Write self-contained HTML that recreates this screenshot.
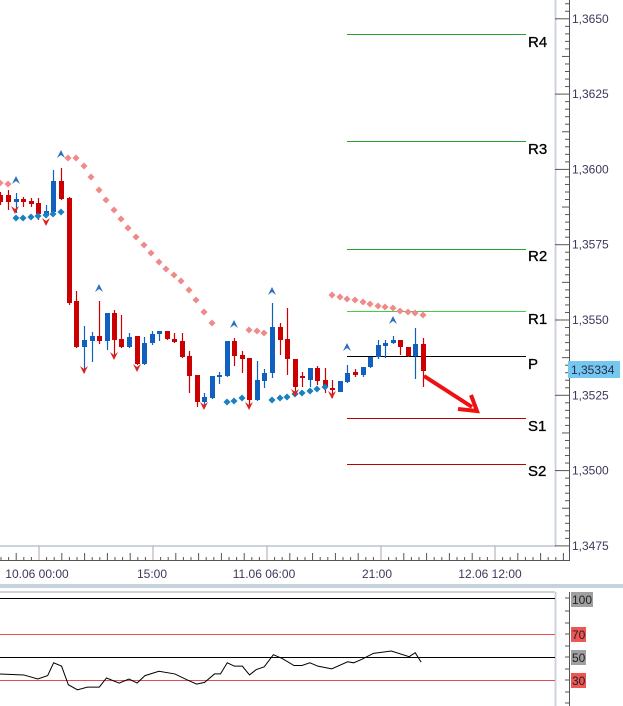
<!DOCTYPE html>
<html><head><meta charset="utf-8"><style>
html,body{margin:0;padding:0;background:#fff;}
svg{display:block;font-family:"Liberation Sans",sans-serif;}
</style></head><body>
<svg id="s" width="623" height="706" viewBox="0 0 623 706" xmlns="http://www.w3.org/2000/svg">
<rect width="623" height="706" fill="#fff"/>
<line x1="555.5" y1="0" x2="555.5" y2="546" stroke="#ccd3dc" stroke-width="2"/>
<line x1="0" y1="546" x2="556" y2="546" stroke="#ccd3dc" stroke-width="2"/>
<line x1="569.5" y1="0" x2="569.5" y2="560" stroke="#555" stroke-width="1"/>
<line x1="0" y1="560.5" x2="570" y2="560.5" stroke="#555" stroke-width="1"/>
<rect x="0" y="584" width="623" height="4" fill="#c8d2dc"/>
<line x1="0" y1="592" x2="555" y2="592" stroke="#ccd3dc" stroke-width="2"/>
<line x1="555.5" y1="592" x2="555.5" y2="706" stroke="#ccd3dc" stroke-width="2"/>
<line x1="569.5" y1="592" x2="569.5" y2="706" stroke="#555" stroke-width="1"/>
<g id="ax"></g>
<line x1="347" y1="34.5" x2="526" y2="34.5" stroke="#2ca02c"/>
<line x1="347" y1="141.5" x2="526" y2="141.5" stroke="#2ca02c"/>
<line x1="347" y1="249.5" x2="526" y2="249.5" stroke="#2ca02c"/>
<line x1="347" y1="311.5" x2="526" y2="311.5" stroke="#44cc44"/>
<line x1="347" y1="356.5" x2="526" y2="356.5" stroke="#000"/>
<line x1="347" y1="418.5" x2="526" y2="418.5" stroke="#c00000"/>
<line x1="347" y1="464.5" x2="526" y2="464.5" stroke="#c00000"/>
<g font-size="15" fill="#000" stroke="#000" stroke-width="0.3">
<text x="528" y="47">R4</text><text x="528" y="154">R3</text><text x="528" y="261">R2</text>
<text x="528" y="324">R1</text><text x="528" y="369">P</text><text x="528" y="431">S1</text><text x="528" y="476">S2</text>
</g>
<g id="c"></g>
<line x1="424" y1="376" x2="472" y2="407" stroke="#ee1111" stroke-width="4"/>
<polyline points="458,409 477,411 471,395" fill="none" stroke="#ee1111" stroke-width="4"/>
<rect x="568" y="361" width="52" height="17" fill="#74c8f0"/>
<text x="571" y="374" font-size="12" fill="#2a2a4a">1,35334</text>
<g font-size="12" fill="#3a3a5a" text-anchor="middle">
<text x="37" y="578">10.06 00:00</text><text x="152" y="578">15:00</text>
<text x="264" y="578">11.06 06:00</text><text x="377" y="578">21:00</text><text x="490" y="578">12.06 12:00</text>
</g>
<line x1="0" y1="598.5" x2="555" y2="598.5" stroke="#000"/>
<line x1="0" y1="634.5" x2="555" y2="634.5" stroke="#e05050"/>
<line x1="0" y1="657.5" x2="555" y2="657.5" stroke="#000"/>
<line x1="0" y1="680.5" x2="555" y2="680.5" stroke="#e05050"/>
<g transform="translate(0,598) scale(0.3973,0.3375) translate(0,-208)">
<polyline fill="none" stroke="#000" stroke-width="1" vector-effect="non-scaling-stroke" points="0,433 60,436 95,448 120,438 135,400 155,410 172,465 195,480 220,472 250,472 268,445 300,460 325,448 345,460 365,438 400,425 440,433 470,450 495,463 515,458 540,433 555,433 572,400 590,410 610,410 628,436 645,420 665,412 688,376 710,387 740,408 760,408 780,400 800,410 835,418 875,397 890,400 910,390 940,372 985,365 1030,382 1045,370 1060,398"/>
</g>
<g font-size="12" fill="#222">
<rect x="571" y="592" width="22" height="15" fill="#a0a0a0"/><text x="572" y="604">100</text>
<rect x="571" y="627" width="15" height="15" fill="#ee5555"/><text x="572" y="639">70</text>
<rect x="571" y="650" width="15" height="15" fill="#a0a0a0"/><text x="572" y="662">50</text>
<rect x="571" y="673" width="15" height="15" fill="#ee5555"/><text x="572" y="685">30</text>
</g>
</svg>
<script>
var NS="http://www.w3.org/2000/svg";
function el(p,t,a){var e=document.createElementNS(NS,t);for(var k in a)e.setAttribute(k,a[k]);p.appendChild(e);return e;}
var ax=document.getElementById('ax');
for(var i=-5;i<=80;i++){var y=18.8+i*7.53;if(y<0||y>548)continue;var m=((i%10)+10)%10;
 var L=m==0?14:(m==5?7:4);el(ax,'line',{x1:569-L,y1:y,x2:569,y2:y,stroke:'#555'});
 if(m==0){var v=(1.3650-i/10*0.0025).toFixed(4).replace('.',',');var t=el(ax,'text',{x:572,y:y+4,'font-size':12,fill:'#3a3a5a'});t.textContent=v;}}
[598,611,623,634,646,657,669,680,692,703].forEach(function(y){el(ax,'line',{x1:565,y1:y,x2:569,y2:y,stroke:'#555'});});
for(var x=39-7.6*5,k=-5;x<566;x+=7.6,k++){if(x<0)continue;var mj=(k%15==0);var md=(k%3==0);
 el(ax,'line',{x1:x,y1:560,x2:x,y2:mj?546:(md?553:557),stroke:mj?'#aaa':'#555'});}
var c=document.getElementById('c');
var R='#cc0000',B='#1060c0';
var d=[[0,195,202,192,205,R],[8,195,202,190,210,R],[16,199,202,193,213,B],[23,199,202,197,207,R],[31,201,204,198,207,R],[38,203,214,198,220,R],[46,211,215,205,218,B],[53,181,212,170,213,B],[61,181,199,168,200,R],[69,198,303,197,305,R],[76,301,347,291,348,R],[84,340,347,326,373,B],[92,336,341,332,362,B],[99,336,341,301,344,R],[107,313,341,313,350,B],[114,313,340,310,356,R],[121,339,347,315,348,R],[129,337,347,333,348,B],[137,336,364,336,365,R],[144,343,364,337,365,B],[152,334,343,331,345,B],[159,331,334,331,341,B],[167,331,339,331,340,R],[174,339,342,333,343,R],[182,341,357,333,358,R],[189,356,376,351,393,R],[197,375,402,375,407,R],[204,397,402,393,406,B],[212,376,398,376,399,B],[219,375,377,372,384,B],[227,341,376,341,377,B],[234,341,356,338,366,R],[242,355,359,351,373,R],[249,358,400,358,405,R],[257,380,400,361,401,B],[264,373,381,369,388,B],[272,327,373,303,378,B],[280,327,340,323,355,R],[287,339,359,308,375,R],[295,359,387,359,393,R],[302,376,378,372,387,R],[310,368,380,368,387,B],[317,368,381,366,385,R],[325,380,387,368,393,R],[332,388,390,380,398,R],[340,381,392,381,392,B],[347,373,382,365,383,B],[355,372,375,369,377,R],[363,367,375,367,377,B],[370,357,367,357,368,B],[378,345,357,340,359,B],[385,343,346,340,358,B],[393,340,343,336,344,B],[400,340,347,340,355,R],[408,347,356,347,357,R],[415,344,356,328,379,B],[423,344,371,338,387,R]];
d.forEach(function(q){el(c,'line',{x1:q[0]+0.5,y1:q[3],x2:q[0]+0.5,y2:q[4],stroke:q[5],'stroke-width':1.2});
 el(c,'rect',{x:q[0]-2,y:q[1],width:5,height:Math.max(1.5,q[2]-q[1]),fill:q[5]});});
var sr=[[0,183],[8,184],[68,158],[76,158],[84,166],[91,177],[99,190],[106,200],[114,210],[121,219],[128,228],[136,237],[144,245],[151,253],[159,262],[166,269],[174,275],[181,281],[189,290],[196,300],[204,312],[212,323],[249,330],[257,331],[264,333],[332,295],[340,297],[347,299],[355,300],[363,302],[370,304],[378,306],[385,307],[393,308],[400,311],[408,312],[415,313],[423,315]];
sr.forEach(function(p){el(c,'rect',{x:p[0]-2.5,y:p[1]-2.5,width:5,height:5,fill:'#f08a8a',transform:'rotate(45 '+p[0]+' '+p[1]+')'});});
var sb=[[16,218],[23,218],[31,217],[38,216],[46,215],[53,214],[61,212],[227,402],[234,401],[242,398],[272,400],[280,398],[287,397],[295,394],[302,393],[310,391],[317,389],[325,387]];
sb.forEach(function(p){el(c,'rect',{x:p[0]-2.5,y:p[1]-2.5,width:5,height:5,fill:'#1a80c0',transform:'rotate(45 '+p[0]+' '+p[1]+')'});});
var up=[[16,180],[61,154],[99,288],[234,324],[272,291],[347,347],[393,320]];
up.forEach(function(p){var x=p[0],y=p[1];el(c,'path',{d:'M'+(x-4)+' '+(y+4)+' L'+x+' '+(y-4)+' L'+(x+4)+' '+(y+4)+' L'+x+' '+(y+1)+'Z',fill:'#2a70c0'});});
var dn=[[15,210],[46,222],[84,370],[114,356],[137,368],[204,406],[249,406],[295,393],[332,395]];
dn.forEach(function(p){var x=p[0],y=p[1];el(c,'path',{d:'M'+(x-4)+' '+(y-4)+' L'+x+' '+(y+4)+' L'+(x+4)+' '+(y-4)+' L'+x+' '+(y-1)+'Z',fill:'#dd2020'});});
</script>
</body></html>
